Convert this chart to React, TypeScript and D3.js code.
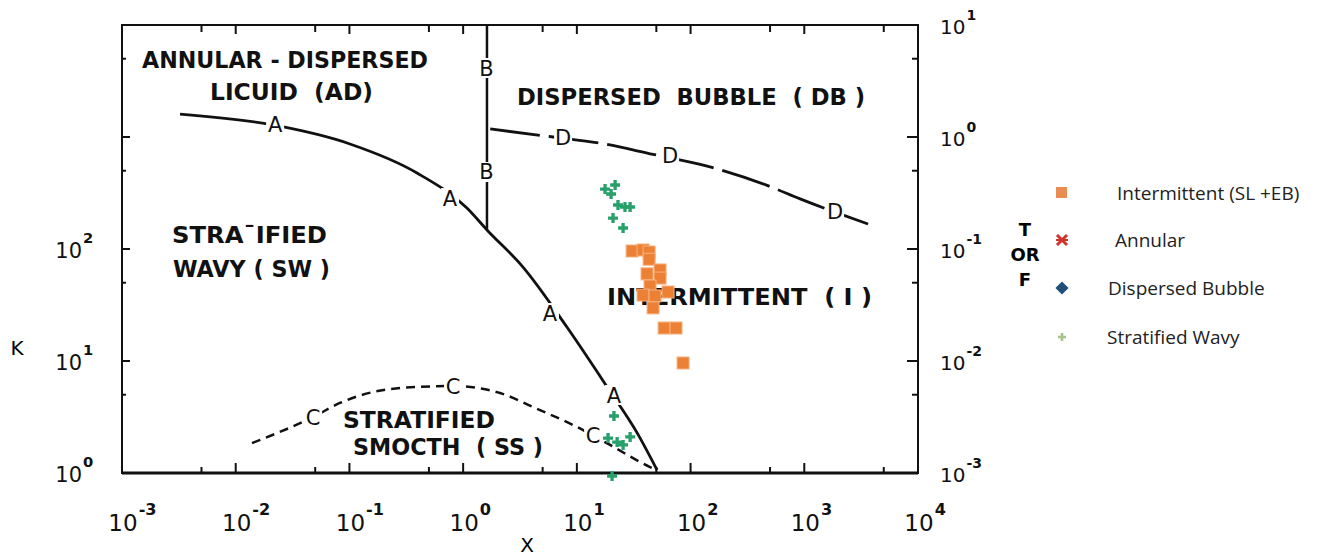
import { useEffect, useRef } from 'react'
import * as d3 from 'd3'

const W = 1332
const H = 558

// boundary A (stratified / non-stratified), X vs K
const curveAX = [0.00324, 0.0213, 0.101, 0.393, 1.08, 1.62, 3.36, 8.2, 18.4, 33.9, 50.8]
const curveAK = [1600, 1280, 866, 477, 232, 148, 69, 20, 5.9, 2.28, 1.06]

// boundary B (vertical), X vs K
const curveBX = [1.62, 1.62]
const curveBK = [10000, 148]

// boundary C (smooth / wavy), X vs K
const curveCX = [0.0139, 0.0479, 0.0826, 0.279, 0.815, 2.11, 4.12, 10.0, 19.6, 44.0, 50.8]
const curveCK = [1.85, 3.16, 4.22, 5.74, 5.98, 5.18, 3.88, 2.58, 1.78, 1.13, 1.06]

// boundary D (intermittent / dispersed bubble), X vs T
const curveDX = [1.73, 6.18, 16.0, 46.8, 140, 471, 919, 3640]
const curveDT = [1.18, 1.0, 0.88, 0.7, 0.55, 0.37, 0.28, 0.167]

// letters sitting on the boundaries
const curveLabels = [
  { t: 'A', x: 0.0222, v: 1280, axis: 'K' },
  { t: 'A', x: 0.767, v: 285, axis: 'K' },
  { t: 'A', x: 5.8, v: 26.8, axis: 'K' },
  { t: 'A', x: 21.2, v: 4.97, axis: 'K' },
  { t: 'B', x: 1.6, v: 4130, axis: 'K' },
  { t: 'B', x: 1.6, v: 487, axis: 'K' },
  { t: 'C', x: 0.0479, v: 3.16, axis: 'K' },
  { t: 'C', x: 0.815, v: 5.98, axis: 'K' },
  { t: 'C', x: 13.9, v: 2.18, axis: 'K' },
  { t: 'D', x: 7.57, v: 1.0, axis: 'T' },
  { t: 'D', x: 66, v: 0.69, axis: 'T' },
  { t: 'D', x: 1866, v: 0.218, axis: 'T' },
]

// experimental points
const intermittentX = [30.6, 38.2, 43.2, 43.2, 41.4, 53.9, 53.9, 44.0, 38.2, 48.7, 63.4, 46.8, 58.5, 74.5, 85.9]
const intermittentK = [96, 98, 94, 81, 60, 65, 55, 46.7, 38.8, 38.1, 41.3, 29.8, 19.7, 19.7, 9.6]
const stratWavyX = [17.7, 20.0, 21.7, 23.0, 26.5, 29.4, 20.8, 25.5, 21.2, 18.8, 22.6, 25.5, 29.4, 20.4]
const stratWavyK = [343, 310, 373, 247, 237, 237, 189, 154, 3.23, 2.05, 1.89, 1.78, 2.1, 0.94]

// axes
const xMajor = [1e-3, 1e-2, 1e-1, 1, 10, 100, 1000, 10000]
const xExp = ['-3', '-2', '-1', '0', '1', '2', '3', '4']
const xMinor = [5e-3, 5e-2, 0.5, 5, 50, 500, 5000]
const kMajor = [10, 100, 1000]
const kLabels = [1, 10, 100]
const kExp = ['0', '1', '2']
const kMinor = [5, 50, 500, 5000]
const tLabels = [1e-3, 1e-2, 1e-1, 1, 10]
const tExp = ['-3', '-2', '-1', '0', '1']
const tMinor = [5e-3, 5e-2, 0.5, 5]

const legendLabels = ['Intermittent (SL +EB)', 'Annular', 'Dispersed Bubble', 'Stratified Wavy']

export default function App() {
  const svgRef = useRef<SVGSVGElement>(null)

  useEffect(() => {
    const svg = d3.select(svgRef.current)
    svg.selectAll('*').remove()

    const left = 122, right = 918, top = 25, bottom = 473
    const x = d3.scaleLog().domain([1e-3, 1e4]).range([left, right])
    const yK = d3.scaleLog().domain([1, 1e4]).range([bottom, top])
    const yT = d3.scaleLog().domain([1e-3, 1e1]).range([bottom, top])

    const sans = 'DejaVu Sans, sans-serif'

    svg.append('rect').attr('width', W).attr('height', H).attr('fill', '#fff')

    // frame
    svg.append('rect')
      .attr('x', left).attr('y', top)
      .attr('width', right - left).attr('height', bottom - top)
      .attr('fill', 'none').attr('stroke', '#111').attr('stroke-width', 2)
    svg.append('line')
      .attr('x1', left).attr('x2', right).attr('y1', bottom).attr('y2', bottom)
      .attr('stroke', '#111').attr('stroke-width', 3)

    // ticks (inward)
    const tick = (x1: number, y1: number, x2: number, y2: number, w = 2) =>
      svg.append('line').attr('x1', x1).attr('y1', y1).attr('x2', x2).attr('y2', y2)
        .attr('stroke', '#111').attr('stroke-width', w)
    xMajor.forEach(v => { tick(x(v), top, x(v), top + 9); tick(x(v), bottom, x(v), bottom - 10) })
    xMinor.forEach(v => { tick(x(v), top, x(v), top + 7); tick(x(v), bottom, x(v), bottom - 6) })
    kMajor.forEach(v => tick(left, yK(v), left + 8, yK(v)))
    kMinor.forEach(v => tick(left, yK(v), left + 4, yK(v)))
    tLabels.slice(1, 4).forEach(v => tick(right, yT(v), right - 11, yT(v)))
    tMinor.forEach(v => tick(right, yT(v), right - 6, yT(v)))

    // tick labels: "10" with a raised exponent
    const power = (cx: number, by: number, exp: string, fs: number, anchor: string) => {
      const t = svg.append('text')
        .attr('x', cx).attr('y', by)
        .attr('font-family', sans).attr('font-size', fs)
        .attr('text-anchor', anchor).attr('fill', '#111')
        .text('10')
      const bb = (t.node() as SVGTextElement).getBBox()
      svg.append('text')
        .attr('x', bb.x + bb.width + 1).attr('y', by - fs * 0.7)
        .attr('font-family', sans).attr('font-size', fs * 0.7).attr('font-weight', 'bold')
        .attr('text-anchor', 'start').attr('fill', '#111')
        .text(exp)
    }
    xMajor.forEach((v, i) => power(x(v) + 1, 531, xExp[i], 23, 'middle'))
    kLabels.forEach((v, i) => power(82, yK(v) + 9, kExp[i], 21, 'end'))
    tLabels.forEach((v, i) => power(940, yT(v) + 9, tExp[i], 20, 'start'))

    svg.append('text').attr('x', 527).attr('y', 552)
      .attr('font-family', sans).attr('font-size', 20).attr('text-anchor', 'middle').text('X')
    svg.append('text').attr('x', 17).attr('y', 355)
      .attr('font-family', sans).attr('font-size', 20).attr('text-anchor', 'middle').text('K')
    ;['T', 'OR', 'F'].forEach((s, i) => {
      svg.append('text').attr('x', 1025).attr('y', 236 + i * 25)
        .attr('font-family', sans).attr('font-size', 18).attr('font-weight', 'bold')
        .attr('text-anchor', 'middle').text(s)
    })

    // region names
    const regions = [
      { t: 'ANNULAR - DISPERSED', x0: 142, x1: 428, y: 68 },
      { t: 'LICUID  (AD)', x0: 210, x1: 373, y: 100 },
      { t: 'DISPERSED  BUBBLE  ( DB )', x0: 517, x1: 865, y: 105 },
      { t: 'STRA\u00AFIFIED', x0: 172, x1: 327, y: 243 },
      { t: 'WAVY ( SW )', x0: 173, x1: 330, y: 277 },
      { t: 'INTERMITTENT  ( I )', x0: 607, x1: 872, y: 305 },
      { t: 'STRATIFIED', x0: 343, x1: 495, y: 428 },
      { t: 'SMOCTH  ( SS )', x0: 353, x1: 543, y: 455 },
    ]
    regions.forEach(r => {
      svg.append('text')
        .attr('x', r.x0).attr('y', r.y)
        .attr('textLength', r.x1 - r.x0).attr('lengthAdjust', 'spacingAndGlyphs')
        .attr('font-family', sans).attr('font-size', 23).attr('font-weight', 'bold')
        .style('white-space', 'pre').attr('fill', '#111')
        .text(r.t)
    })

    // boundaries
    const line = d3.line<[number, number]>()
      .x(d => d[0]).y(d => d[1]).curve(d3.curveMonotoneX)
    const draw = (xs: number[], ys: number[], sy: (v: number) => number, dash: string | null, w: number) => {
      const pts = xs.map((v, i) => [x(v), sy(ys[i])] as [number, number])
      const p = svg.append('path')
        .attr('d', line(pts))
        .attr('fill', 'none').attr('stroke', '#111').attr('stroke-width', w)
      if (dash) p.attr('stroke-dasharray', dash)
    }
    draw(curveAX, curveAK, yK, null, 2.8)
    svg.append('line')
      .attr('x1', x(curveBX[0])).attr('x2', x(curveBX[1]))
      .attr('y1', yK(curveBK[0])).attr('y2', yK(curveBK[1]))
      .attr('stroke', '#111').attr('stroke-width', 2.5)
    draw(curveCX, curveCK, yK, '9,6', 2.5)
    draw(curveDX, curveDT, yT, '50,9', 2.8)

    // letters break the boundary lines
    curveLabels.forEach(l => {
      const cx = x(l.x)
      const cy = l.axis === 'K' ? yK(l.v) : yT(l.v)
      svg.append('rect')
        .attr('x', cx - 9).attr('y', cy - 10)
        .attr('width', 18).attr('height', 20)
        .attr('fill', '#fff')
      svg.append('text')
        .attr('x', cx).attr('y', cy + 7.5)
        .attr('text-anchor', 'middle')
        .attr('font-family', sans).attr('font-size', 21)
        .attr('fill', '#111')
        .text(l.t)
    })

    // data markers
    intermittentX.forEach((v, i) => {
      svg.append('rect')
        .attr('x', x(v) - 6).attr('y', yK(intermittentK[i]) - 6)
        .attr('width', 12).attr('height', 12)
        .attr('fill', '#EC8035').attr('stroke', '#F6B27F').attr('stroke-width', 1)
    })
    const plus = d3.symbol().type(d3.symbolCross).size(55)
    stratWavyX.forEach((v, i) => {
      svg.append('path')
        .attr('d', plus() as string)
        .attr('transform', `translate(${x(v)},${yK(stratWavyK[i])})`)
        .attr('fill', '#27A06A')
    })

    // legend
    const lgX = 1062
    const lgY = [193, 240, 288, 337]
    const lgTextX = [1117, 1115, 1108, 1107]
    const lg = svg.append('g')
    lg.append('rect').attr('x', lgX - 6).attr('y', lgY[0] - 6).attr('width', 11).attr('height', 11).attr('fill', '#E98D52')
    const star = lg.append('g').attr('transform', `translate(${lgX},${lgY[1]})`)
      .attr('stroke', '#D0342C').attr('stroke-width', 3)
    star.append('line').attr('x1', -5).attr('y1', -5).attr('x2', 5).attr('y2', 5)
    star.append('line').attr('x1', -5).attr('y1', 5).attr('x2', 5).attr('y2', -5)
    star.append('line').attr('x1', -6).attr('y1', 0).attr('x2', 6).attr('y2', 0).attr('stroke-width', 2)
    lg.append('path').attr('d', d3.symbol().type(d3.symbolDiamond2).size(110)() as string)
      .attr('transform', `translate(${lgX},${lgY[2]})`).attr('fill', '#1F4E79')
    lg.append('path').attr('d', d3.symbol().type(d3.symbolCross).size(36)() as string)
      .attr('transform', `translate(${lgX},${lgY[3]})`).attr('fill', '#A7C58A')
    legendLabels.forEach((s, i) => {
      lg.append('text')
        .attr('x', lgTextX[i]).attr('y', lgY[i] + 7)
        .attr('font-family', 'Open Sans, sans-serif').attr('font-size', 19)
        .attr('fill', '#222')
        .text(s)
    })
  }, [])

  return (
    <svg ref={svgRef} width={W} height={H}
      style={{ position: 'absolute', left: 0, top: 0, display: 'block' }} />
  )
}
